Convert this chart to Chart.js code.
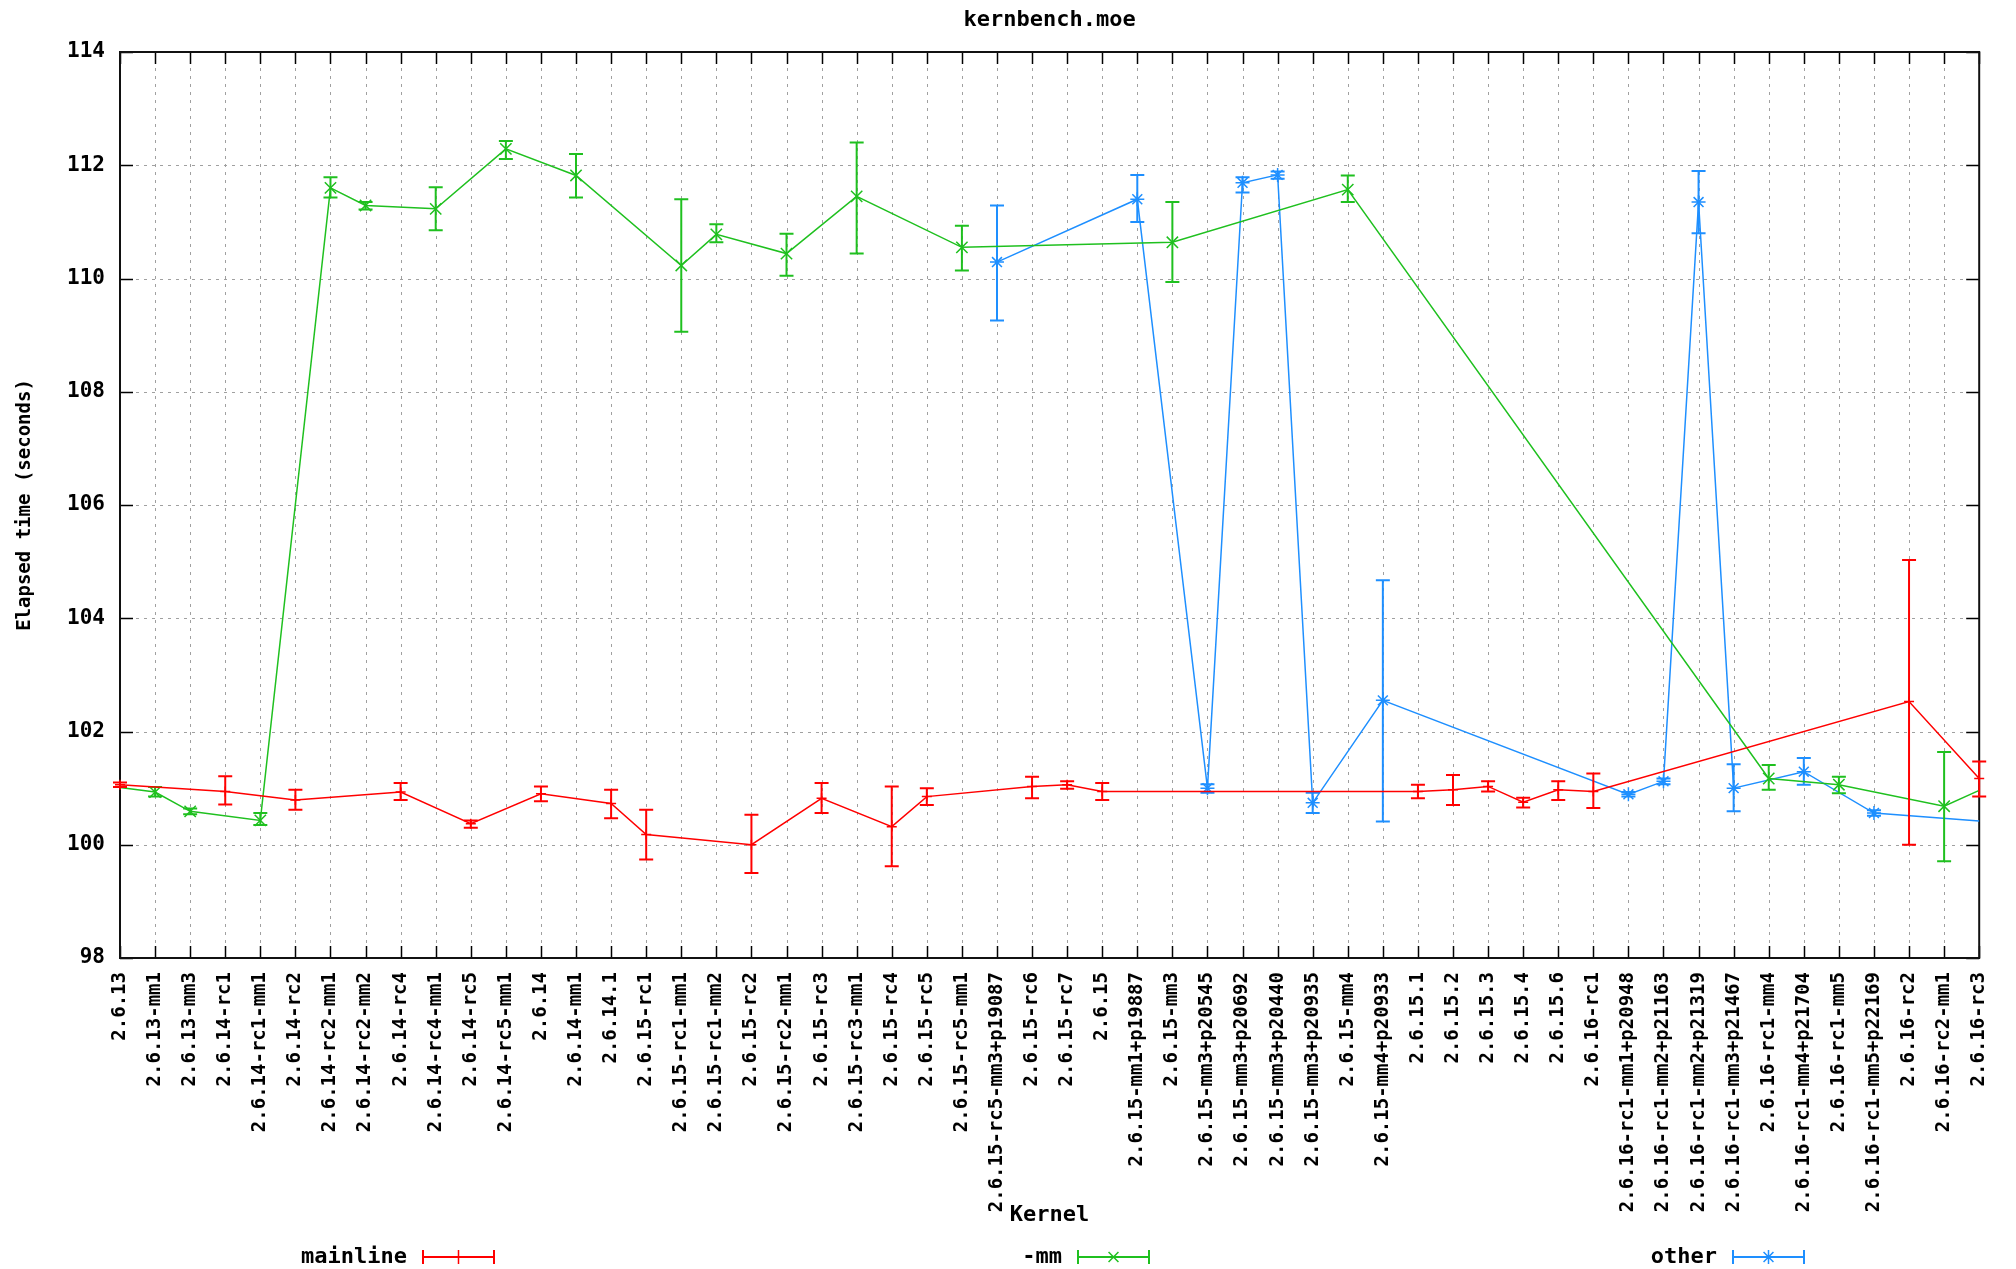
<!DOCTYPE html>
<html lang="en">
<head>
<meta charset="UTF-8" />
<title>kernbench.moe</title>
<script src="https://cdn.jsdelivr.net/npm/chart.js@4.4.1/dist/chart.umd.min.js"></script>
<style>
  html,body{margin:0;padding:0;background:#fff}
  canvas{display:block}
</style>
</head>
<body>
<canvas id="chart" width="2016" height="1269"></canvas>
<script>
// x categories, left to right
const kernels = [
  '2.6.13', '2.6.13-mm1', '2.6.13-mm3', '2.6.14-rc1', '2.6.14-rc1-mm1', '2.6.14-rc2',
  '2.6.14-rc2-mm1', '2.6.14-rc2-mm2', '2.6.14-rc4', '2.6.14-rc4-mm1', '2.6.14-rc5',
  '2.6.14-rc5-mm1', '2.6.14', '2.6.14-mm1', '2.6.14.1', '2.6.15-rc1', '2.6.15-rc1-mm1',
  '2.6.15-rc1-mm2', '2.6.15-rc2', '2.6.15-rc2-mm1', '2.6.15-rc3', '2.6.15-rc3-mm1',
  '2.6.15-rc4', '2.6.15-rc5', '2.6.15-rc5-mm1', '2.6.15-rc5-mm3+p19087', '2.6.15-rc6',
  '2.6.15-rc7', '2.6.15', '2.6.15-mm1+p19887', '2.6.15-mm3', '2.6.15-mm3+p20545',
  '2.6.15-mm3+p20692', '2.6.15-mm3+p20440', '2.6.15-mm3+p20935', '2.6.15-mm4',
  '2.6.15-mm4+p20933', '2.6.15.1', '2.6.15.2', '2.6.15.3', '2.6.15.4', '2.6.15.6',
  '2.6.16-rc1', '2.6.16-rc1-mm1+p20948', '2.6.16-rc1-mm2+p21163', '2.6.16-rc1-mm2+p21319',
  '2.6.16-rc1-mm3+p21467', '2.6.16-rc1-mm4', '2.6.16-rc1-mm4+p21704', '2.6.16-rc1-mm5',
  '2.6.16-rc1-mm5+p22169', '2.6.16-rc2', '2.6.16-rc2-mm1', '2.6.16-rc3'
];

// y axis (seconds)
const yMin = 98;
const yMax = 114;
const yStep = 2;

// mainline: mean elapsed time and error bar range
const mainlineKernels = [
  '2.6.13', '2.6.14-rc1', '2.6.14-rc2', '2.6.14-rc4', '2.6.14-rc5', '2.6.14', '2.6.14.1',
  '2.6.15-rc1', '2.6.15-rc2', '2.6.15-rc3', '2.6.15-rc4', '2.6.15-rc5', '2.6.15-rc6',
  '2.6.15-rc7', '2.6.15', '2.6.15.1', '2.6.15.2', '2.6.15.3', '2.6.15.4', '2.6.15.6',
  '2.6.16-rc1', '2.6.16-rc2', '2.6.16-rc3'
];
const mainlineTime = [101.06, 100.94, 100.79, 100.93, 100.37, 100.90, 100.73, 100.18, 100.00, 100.82, 100.32, 100.85, 101.03, 101.06, 100.94, 100.94, 100.97, 101.03, 100.75, 100.97, 100.94, 102.53, 101.17];
const mainlineLow  = [101.02, 100.71, 100.62, 100.79, 100.30, 100.77, 100.47, 99.74, 99.50, 100.56, 99.62, 100.70, 100.82, 100.99, 100.79, 100.82, 100.70, 100.94, 100.66, 100.79, 100.65, 100.00, 100.85];
const mainlineHigh = [101.10, 101.21, 100.97, 101.09, 100.43, 101.03, 100.97, 100.62, 100.53, 101.09, 101.03, 101.00, 101.20, 101.12, 101.09, 101.06, 101.23, 101.12, 100.83, 101.12, 101.26, 105.03, 101.47];

// -mm (first and last entries: where the line leaves the plot, no error bar)
const mmKernels = [
  '2.6.13', '2.6.13-mm1', '2.6.13-mm3', '2.6.14-rc1-mm1', '2.6.14-rc2-mm1', '2.6.14-rc2-mm2',
  '2.6.14-rc4-mm1', '2.6.14-rc5-mm1', '2.6.14-mm1', '2.6.15-rc1-mm1', '2.6.15-rc1-mm2',
  '2.6.15-rc2-mm1', '2.6.15-rc3-mm1', '2.6.15-rc5-mm1', '2.6.15-mm3', '2.6.15-mm4',
  '2.6.16-rc1-mm4', '2.6.16-rc1-mm5', '2.6.16-rc2-mm1', '2.6.16-rc3'
];
const mmTime = [101.01, 100.93, 100.59, 100.43, 111.60, 111.29, 111.23, 112.29, 111.82, 110.23, 110.78, 110.44, 111.45, 110.55, 110.64, 111.57, 101.17, 101.06, 100.68, 100.96];
const mmLow  = [null, 100.85, 100.54, 100.35, 111.43, 111.22, 110.85, 112.11, 111.43, 109.06, 110.64, 110.05, 110.44, 110.14, 109.94, 111.35, 100.97, 100.91, 99.71, null];
const mmHigh = [null, 101.02, 100.64, 100.56, 111.79, 111.35, 111.61, 112.43, 112.20, 111.40, 110.96, 110.79, 112.40, 110.93, 111.35, 111.82, 101.41, 101.20, 101.64, null];

// other (patched) kernels (last entry: where the line leaves the plot)
const otherKernels = [
  '2.6.15-rc5-mm3+p19087', '2.6.15-mm1+p19887', '2.6.15-mm3+p20545', '2.6.15-mm3+p20692',
  '2.6.15-mm3+p20440', '2.6.15-mm3+p20935', '2.6.15-mm4+p20933', '2.6.16-rc1-mm1+p20948',
  '2.6.16-rc1-mm2+p21163', '2.6.16-rc1-mm2+p21319', '2.6.16-rc1-mm3+p21467',
  '2.6.16-rc1-mm4+p21704', '2.6.16-rc1-mm5+p22169', '2.6.16-rc3'
];
const otherTime = [110.29, 111.40, 101.00, 111.69, 111.83, 100.74, 102.55, 100.89, 101.12, 111.35, 101.00, 101.29, 100.56, 100.42];
const otherLow  = [109.26, 111.00, 100.92, 111.52, 111.76, 100.56, 100.41, 100.85, 101.07, 110.80, 100.59, 101.06, 100.51, null];
const otherHigh = [111.29, 111.83, 101.07, 111.79, 111.89, 100.92, 104.67, 100.93, 101.17, 111.90, 101.42, 101.53, 100.61, null];

const FONT = "'DejaVu Sans Mono', 'Liberation Mono', monospace";

function points(names, time, low, high) {
  return names.map((k, i) => ({ x: k, y: time[i], lo: low[i], hi: high[i] }));
}

function series(label, color, style, radius, data) {
  return {
    label,
    data,
    borderColor: color,
    backgroundColor: color,
    borderWidth: 1.5,
    tension: 0,
    pointStyle: style,
    pointRadius: (c) => (c.raw && c.raw.lo == null ? 0 : radius),
    pointBorderWidth: 1.5,
    pointBorderColor: color,
  };
}

function drawMarker(ctx, style, x, y, r) {
  const d = r * Math.SQRT1_2;
  ctx.beginPath();
  if (style === 'cross' || style === 'star') {
    ctx.moveTo(x - r, y); ctx.lineTo(x + r, y);
    ctx.moveTo(x, y - r); ctx.lineTo(x, y + r);
  }
  if (style === 'crossRot' || style === 'star') {
    ctx.moveTo(x - d, y - d); ctx.lineTo(x + d, y + d);
    ctx.moveTo(x - d, y + d); ctx.lineTo(x + d, y - d);
  }
  ctx.stroke();
}

// dotted grid, inward tics and the border, gnuplot style
const frame = {
  id: 'frame',
  beforeDatasetsDraw(chart) {
    const { ctx, chartArea: a, scales: { x, y } } = chart;
    ctx.save();
    ctx.strokeStyle = '#a0a0a0';
    ctx.lineWidth = 1;
    ctx.setLineDash([3, 5]);
    ctx.beginPath();
    for (let i = 1; i < x.ticks.length - 1; i++) {
      const px = Math.round(x.getPixelForTick(i)) + 0.5;
      ctx.moveTo(px, a.top); ctx.lineTo(px, a.bottom);
    }
    for (let i = 1; i < y.ticks.length - 1; i++) {
      const py = Math.round(y.getPixelForTick(i)) + 0.5;
      ctx.moveTo(a.left, py); ctx.lineTo(a.right, py);
    }
    ctx.stroke();
    ctx.setLineDash([]);

    ctx.strokeStyle = '#000';
    ctx.lineWidth = 1.5;
    ctx.beginPath();
    x.ticks.forEach((t, i) => {
      const px = Math.round(x.getPixelForTick(i)) + 0.5;
      ctx.moveTo(px, a.bottom); ctx.lineTo(px, a.bottom - 12);
      ctx.moveTo(px, a.top); ctx.lineTo(px, a.top + 12);
    });
    y.ticks.forEach((t, i) => {
      const py = Math.round(y.getPixelForTick(i)) + 0.5;
      ctx.moveTo(a.left, py); ctx.lineTo(a.left + 13, py);
      ctx.moveTo(a.right, py); ctx.lineTo(a.right - 13, py);
    });
    ctx.stroke();
    ctx.lineWidth = 2;
    ctx.strokeStyle = '#111';
    ctx.strokeRect(a.left, a.top, a.right - a.left, a.bottom - a.top);
    ctx.restore();
  },
  afterDraw(chart, args, opts) {
    const { ctx, chartArea: a } = chart;
    ctx.save();
    ctx.font = `bold 22px ${FONT}`;
    ctx.fillStyle = '#000';
    ctx.textAlign = 'center';
    ctx.textBaseline = 'middle';
    ctx.fillText(opts.title, (a.left + a.right) / 2, 20);
    ctx.restore();
  }
};

// vertical error bars with caps, drawn right after each dataset
const errorBars = {
  id: 'errorBars',
  afterDatasetDraw(chart, args) {
    const { ctx, chartArea: a, scales: { y } } = chart;
    const ds = chart.data.datasets[args.index];
    ctx.save();
    ctx.beginPath();
    ctx.rect(a.left - 8, a.top - 1, a.right - a.left + 16, a.bottom - a.top + 2);
    ctx.clip();
    ctx.strokeStyle = ds.borderColor;
    ctx.lineWidth = 2;
    ctx.beginPath();
    args.meta.data.forEach((pt, i) => {
      const d = ds.data[i];
      if (d.lo == null) return;
      const top = y.getPixelForValue(d.hi);
      const bot = y.getPixelForValue(d.lo);
      ctx.moveTo(pt.x, top); ctx.lineTo(pt.x, bot);
      ctx.moveTo(pt.x - 7, top); ctx.lineTo(pt.x + 7, top);
      ctx.moveTo(pt.x - 7, bot); ctx.lineTo(pt.x + 7, bot);
    });
    ctx.stroke();
    ctx.restore();
  }
};

// key row under the x axis title: text right-justified, then a sample
const keyRow = {
  id: 'keyRow',
  afterDraw(chart, args, opts) {
    const { ctx } = chart;
    chart.data.datasets.forEach((ds, k) => {
      const end = opts.firstEnd + k * opts.step;
      const start = end - opts.sample;
      const yMid = opts.y;
      ctx.save();
      ctx.font = `bold 22px ${FONT}`;
      ctx.fillStyle = '#000';
      ctx.textAlign = 'right';
      ctx.textBaseline = 'middle';
      ctx.fillText(ds.label, start - 16, yMid);
      ctx.strokeStyle = ds.borderColor;
      ctx.lineWidth = 2;
      ctx.beginPath();
      ctx.moveTo(start, yMid); ctx.lineTo(end, yMid);
      ctx.moveTo(start, yMid - 7); ctx.lineTo(start, yMid + 7);
      ctx.moveTo(end, yMid - 7); ctx.lineTo(end, yMid + 7);
      ctx.stroke();
      ctx.lineWidth = 1.5;
      drawMarker(ctx, ds.pointStyle, (start + end) / 2, yMid, 7);
      ctx.restore();
    });
  }
};

const tickFont = { family: FONT, size: 19, weight: 'bold' };

new Chart(document.getElementById('chart'), {
  type: 'line',
  data: {
    labels: kernels,
    datasets: [
      series('mainline', '#ff0000', 'cross', 5, points(mainlineKernels, mainlineTime, mainlineLow, mainlineHigh)),
      series('-mm', '#1fc01f', 'crossRot', 8, points(mmKernels, mmTime, mmLow, mmHigh)),
      series('other', '#1e8fff', 'star', 7, points(otherKernels, otherTime, otherLow, otherHigh)),
    ]
  },
  plugins: [frame, errorBars, keyRow],
  options: {
    responsive: false,
    animation: false,
    devicePixelRatio: 1,
    layout: { padding: { top: 52, right: 36, left: 0, bottom: 0 } },
    plugins: {
      legend: { display: false },
      title: { display: false },
      tooltip: { enabled: false },
      frame: { title: 'kernbench.moe' },
      keyRow: { firstEnd: 494, step: 655, sample: 71, y: 1257 },
    },
    scales: {
      x: {
        type: 'category',
        offset: false,
        grid: { display: false, drawTicks: false, tickLength: 0 },
        border: { display: false },
        ticks: {
          autoSkip: false,
          minRotation: 90,
          maxRotation: 90,
          padding: 14,
          color: '#000',
          font: tickFont,
        },
        title: {
          display: true,
          text: 'Kernel',
          color: '#000',
          font: { family: FONT, size: 22, weight: 'bold' },
          padding: { top: 0, bottom: 41 },
        },
        afterFit(scale) { scale.height = 311; },
      },
      y: {
        min: yMin,
        max: yMax,
        grid: { display: false, drawTicks: false, tickLength: 0 },
        border: { display: false },
        ticks: {
          stepSize: yStep,
          padding: 15,
          color: '#000',
          font: { family: FONT, size: 21, weight: 'bold' },
        },
        title: {
          display: true,
          text: 'Elapsed time (seconds)',
          color: '#000',
          font: { family: FONT, size: 19, weight: 'bold' },
          padding: { top: 14, bottom: 0 },
        },
        afterFit(scale) { scale.width = 120; },
      },
    },
  },
});
</script>
</body>
</html>
